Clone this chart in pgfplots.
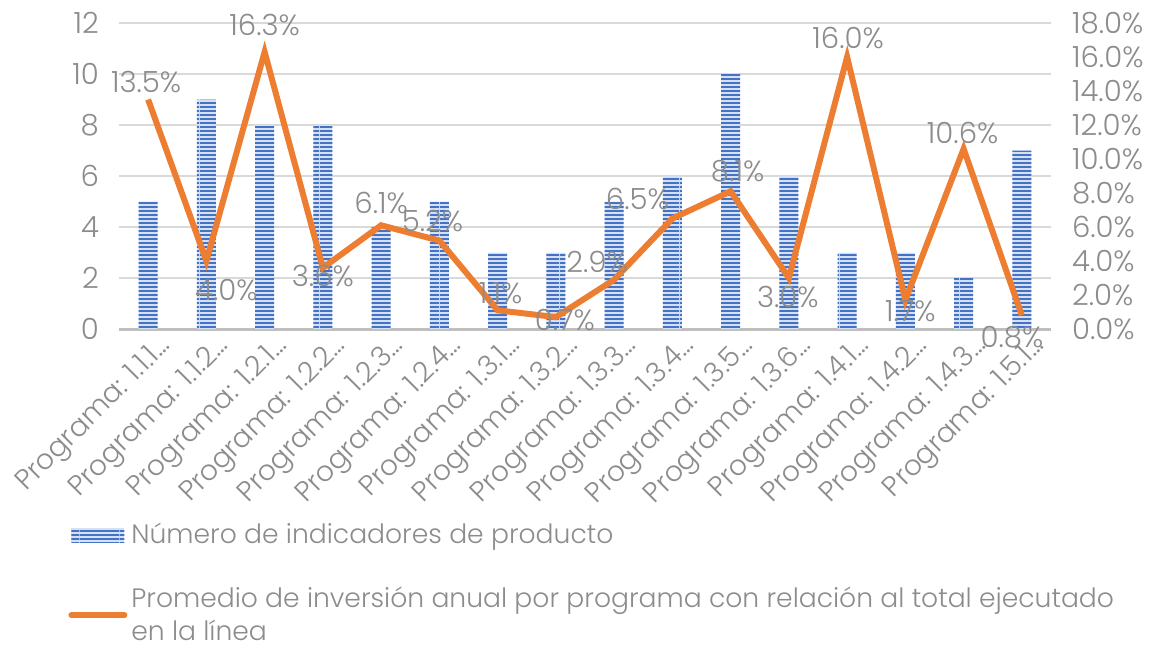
\documentclass[border=0pt]{standalone}
\usepackage{fontspec}
\setmainfont{Poppins}[UprightFont=* Light]
\usepackage{pgfplots}
\pgfplotsset{compat=1.18}
\usepackage{pgfplotstable}
\usetikzlibrary{patterns}

\definecolor{barblue}{HTML}{4472C4}
\definecolor{barlight}{HTML}{D5E0F3}
\definecolor{lineorange}{HTML}{ED7D31}
\definecolor{txtgray}{HTML}{8C8C8C}
\definecolor{gridgray}{HTML}{D9D9D9}
\definecolor{axgray}{HTML}{BFBFBF}

% horizontal stripes for the bars
\pgfdeclarepatternformonly{hstripes}{\pgfqpoint{0pt}{0pt}}{\pgfqpoint{20pt}{2pt}}{\pgfqpoint{20pt}{2pt}}{%
  \pgfpathrectangle{\pgfqpoint{0pt}{0pt}}{\pgfqpoint{20pt}{1.1pt}}%
  \pgfusepath{fill}}

\newcommand{\fs}{\fontsize{13.3}{16.5}\selectfont}
\newcommand{\fn}{\fontsize{14.6}{17}\selectfont}
\newcommand{\fc}{\fontsize{14}{17}\selectfont}

% x, bars, share (%), label shift dx/dy (pt)
\pgfplotstableread{
x bars pct dx dy
0 5 13.5 -1 8.75
1 9 4.0 10 -14.5
2 8 16.3 0 13.5
3 8 3.6 0 -4
4 4 6.1 0 11
5 5 5.2 -3.5 10
6 3 1.1 1.5 8.5
7 3 0.7 4.5 -1.5
8 5 2.9 -8.5 9
9 6 6.5 -17.5 10
10 10 8.1 3.5 10
11 6 3.0 -0.5 -9.5
12 3 16.0 0.5 9.5
13 3 1.7 2.5 -5.5
14 2 10.6 -0.5 8
15 7 0.8 -5 -11
}\data

\begin{document}
\begin{tikzpicture}
\path[use as bounding box] (-59.5pt,-159.5pt) rectangle (517pt,164.5pt);
\pgfplotsset{
  base/.style={
    width=466pt, height=153pt, scale only axis,
    at={(0,0)}, anchor=south west,
    xmin=-0.5, xmax=15.5,
    tick style={draw=none},
    ticklabel style={font=\fn, text=txtgray},
    /pgf/number format/assume math mode=true,
  }
}
\begin{axis}[
  base,
  ymin=0, ymax=12, ytick={0,2,...,12},
  ymajorgrids, grid style={gridgray, line width=1pt},
  axis x line*=bottom, axis y line*=left,
  x axis line style={axgray, line width=1.5pt, -},
  y axis line style={draw=none},
  yticklabel style={xshift=-6.5pt},
  xtick=data,
  xticklabels={Programa: 1.1.1…, Programa: 1.1.2…, Programa: 1.2.1…, Programa: 1.2.2…,
    Programa: 1.2.3…, Programa: 1.2.4…, Programa: 1.3.1…, Programa: 1.3.2…,
    Programa: 1.3.3…, Programa: 1.3.4…, Programa: 1.3.5…, Programa: 1.3.6…,
    Programa: 1.4.1…, Programa: 1.4.2…, Programa: 1.4.3…, Programa: 1.5.1…},
  xticklabel style={font=\fc, xshift=11.7pt, yshift=-4.4pt, rotate=45, anchor=east},
]
\addplot[ybar, bar width=9.5pt, draw=none, fill=barlight,
  postaction={pattern=hstripes, pattern color=barblue}]
  table[x=x, y=bars] {\data};
\end{axis}

\begin{axis}[
  base,
  ymin=0, ymax=18, ytick={0,2,...,18},
  axis y line*=right, axis x line=none,
  y axis line style={draw=none},
  yticklabel={\pgfmathprintnumber[fixed,fixed zerofill,precision=1]{\tick}\%},
  yticklabel style={xshift=7pt},
  legend style={at={(0,0)}, anchor=north west, xshift=-25.5pt, yshift=-95pt,
    draw=none, fill=none, font=\fs, text=txtgray, inner sep=0pt,
    row sep=16pt, cells={anchor=west, align=left}},
  legend cell align=left,
]
\addlegendimage{legend image code/.code={
  \fill[barlight, draw=none] (0pt,-3.5pt) rectangle (26.5pt,3.5pt);
  \fill[pattern=hstripes, pattern color=barblue, draw=none] (0pt,-3.5pt) rectangle (26.5pt,3.5pt);}}
\addlegendentry{Número de indicadores de producto}
\addplot[lineorange, line width=3pt, mark=none,
  nodes near coords={\pgfmathprintnumber[fixed,fixed zerofill,precision=1]{\pgfplotspointmeta}\%},
  point meta=y,
  visualization depends on={\thisrow{dx} \as \dx},
  visualization depends on={\thisrow{dy} \as \dy},
  every node near coord/.append style={anchor=center, font=\fn, text=txtgray,
    xshift=\dx pt, yshift=\dy pt},
  legend image code/.code={\draw[lineorange, line width=3pt, line cap=round] (0pt,0pt) -- (26.5pt,0pt);},
] table[x=x, y=pct] {\data};
\addlegendentry{Promedio de inversión anual por programa con relación al total ejecutado\\en la línea}
\end{axis}
\end{tikzpicture}
\end{document}
